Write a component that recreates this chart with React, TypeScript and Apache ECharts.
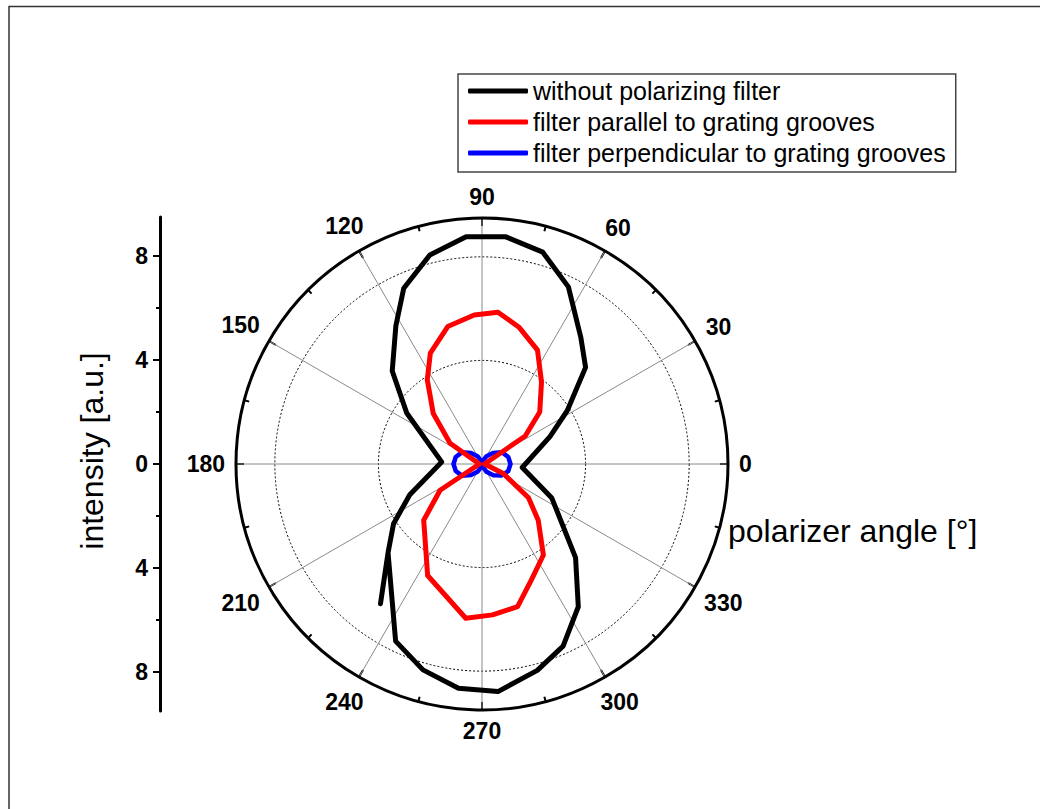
import React, { useEffect, useRef } from "react";
import * as echarts from "echarts";

const FONT = "'Liberation Sans', Arial, Helvetica, sans-serif";

// Black: without polarizing filter (angle in degrees, intensity)
const blackAngle = [234, 223, 214, 203, 177, 146, 134, 122, 114, 104, 94, 84, 74, 64, 52, 43, 32, 22, 355, 334, 315, 304, 294, 285, 274, 264, 254, 244, 223.5];
const blackR = [6.67, 4.95, 4.12, 3.03, 1.56, 3.5, 4.99, 6.28, 7.43, 8.32, 8.8, 8.82, 8.51, 7.61, 6.2, 5.47, 3.88, 2.83, 1.56, 3.0, 5.11, 6.65, 7.7, 8.25, 8.81, 8.71, 8.27, 7.61, 5.0];

// Red: filter parallel to grating grooves
const redAngle = [0, 33, 42, 54, 64, 75, 84, 93, 104, 115, 123, 134, 147, 180, 212, 224, 237, 244, 264, 274, 284, 293, 304, 315, 324, 336, 360];
const redR = [0.1, 1.99, 3.0, 3.91, 4.89, 5.48, 5.89, 5.76, 5.47, 4.72, 3.88, 2.71, 1.47, 0.1, 1.91, 3.13, 3.98, 4.79, 5.99, 5.84, 5.68, 4.87, 4.24, 3.07, 2.22, 0.9, 0.1];

// Blue: filter perpendicular to grating grooves
const blueAngle = [0, 15, 30, 45, 60, 75, 90, 105, 120, 135, 150, 165, 180, 195, 210, 225, 240, 255, 270, 285, 300, 315, 330, 345, 360];
const blueR = [1.1, 1.05, 0.9, 0.6, 0.35, 0.12, 0.02, 0.12, 0.35, 0.6, 0.9, 1.05, 1.1, 1.05, 0.9, 0.6, 0.35, 0.12, 0.02, 0.1, 0.35, 0.62, 0.88, 1.05, 1.1];

const seriesNames = [
  "without polarizing filter",
  "filter parallel to grating grooves",
  "filter perpendicular to grating grooves",
];

const angleTicks = [0, 30, 60, 90, 120, 150, 180, 210, 240, 270, 300, 330];
const intensityMajor = [-8, -4, 0, 4, 8];
const intensityMinor = [-6, -2, 2, 6];
const RADIUS_MAX = 9.5;

const toPairs = (angles: number[], rs: number[]) => angles.map((a, i) => [rs[i], a]);

export default function App() {
  const ref = useRef<HTMLDivElement>(null);
  useEffect(() => {
    if (!ref.current) return;
    const chart = echarts.init(ref.current, undefined, { renderer: "svg" });
    const lineSeries = (name: string, data: number[][], color: string, width: number, z: number) => ({
      type: "line",
      name,
      coordinateSystem: "polar",
      data,
      symbol: "none",
      showSymbol: false,
      smooth: false,
      z,
      lineStyle: { color, width, join: "round", cap: "round" },
      itemStyle: { color },
    });
    const baseGraphic: any[] = [
      {
        type: "rect",
        id: "frame",
        shape: { x: 9, y: 6.5, width: 1100, height: 900 },
        style: { fill: "none", stroke: "#333", lineWidth: 1.5 },
        silent: true,
        z: -1,
      },
      {
        type: "text",
        id: "xname",
        x: 728,
        y: 531,
        style: {
          text: "polarizer angle [°]",
          fontSize: 32,
          fontFamily: FONT,
          fill: "#000",
          align: "left",
          verticalAlign: "middle",
        },
      },
      {
        type: "text",
        id: "yname",
        x: 92,
        y: 451,
        rotation: Math.PI / 2,
        style: {
          text: "intensity [a.u.]",
          fontSize: 32,
          fontFamily: FONT,
          fill: "#000",
          align: "center",
          verticalAlign: "middle",
        },
      },
    ];
    const option: any = {
      animation: false,
      backgroundColor: "#fff",
      polar: { center: [482, 464], radius: 246 },
      angleAxis: {
        type: "value",
        min: 0,
        max: 360,
        interval: 30,
        startAngle: 0,
        clockwise: false,
        axisLine: { show: true, lineStyle: { color: "#000", width: 3 } },
        axisTick: { show: true, inside: true, length: 8, lineStyle: { color: "#000", width: 2 } },
        minorTick: { show: true, splitNumber: 2, length: 5, lineStyle: { color: "#000", width: 2 } },
        axisLabel: { show: false },
        splitLine: { show: true, lineStyle: { color: "#8a8a8a", width: 1 } },
      },
      radiusAxis: {
        type: "value",
        min: 0,
        max: RADIUS_MAX,
        interval: 4,
        axisLine: { show: false },
        axisTick: { show: false },
        axisLabel: { show: false },
        splitLine: { show: true, lineStyle: { color: "#000", width: 1, type: [2, 2] } },
      },
      grid: { left: 160, top: 217, width: 1, height: 494 },
      xAxis: { type: "value", show: false, min: 0, max: 1 },
      yAxis: [
        {
          type: "value",
          min: -RADIUS_MAX,
          max: RADIUS_MAX,
          position: "left",
          axisLine: { show: true, onZero: false, lineStyle: { color: "#000", width: 3 } },
          axisTick: { show: true, length: 7, customValues: intensityMajor, lineStyle: { color: "#000", width: 2 } },
          axisLabel: {
            show: true,
            customValues: intensityMajor,
            formatter: (v: number) => String(Math.abs(v)),
            margin: 12,
            fontSize: 23,
            fontWeight: "bold",
            color: "#000",
            fontFamily: FONT,
          },
          splitLine: { show: false },
        },
        {
          type: "value",
          min: -RADIUS_MAX,
          max: RADIUS_MAX,
          position: "left",
          offset: 0,
          axisLine: { show: false },
          axisTick: { show: true, length: 4, customValues: intensityMinor, lineStyle: { color: "#000", width: 2 } },
          axisLabel: { show: false },
          splitLine: { show: false },
        },
      ],
      legend: {
        show: true,
        orient: "vertical",
        left: 458,
        top: 74,
        padding: [2, 10, 4, 10],
        itemGap: 1,
        itemWidth: 60,
        itemHeight: 5,
        icon: "roundRect",
        borderColor: "#444",
        borderWidth: 1.5,
        backgroundColor: "#fff",
        data: seriesNames,
        textStyle: { fontSize: 25, color: "#000", fontFamily: FONT, lineHeight: 30 },
        selectedMode: false,
      },
      graphic: baseGraphic,
      series: [
        lineSeries(seriesNames[0], toPairs(blackAngle, blackR), "#000000", 5, 3),
        lineSeries(seriesNames[1], toPairs(redAngle, redR), "#ff0000", 5, 3),
        lineSeries(seriesNames[2], toPairs(blueAngle, blueR), "#0000ff", 4.5, 2),
      ],
    };
    chart.setOption(option);

    // Angle tick labels, placed radially (centered) outside the circle using the polar scale.
    const fs = 23;
    const labels: any[] = [];
    try {
      const c = chart.convertToPixel({ seriesIndex: 0 } as any, [0, 0]) as unknown as number[];
      angleTicks.forEach((a) => {
        const p = chart.convertToPixel({ seriesIndex: 0 } as any, [RADIUS_MAX, a]) as unknown as number[];
        const dx = p[0] - c[0];
        const dy = p[1] - c[1];
        const R = Math.hypot(dx, dy);
        const ux = dx / R;
        const uy = dy / R;
        const text = String(a);
        const w = text.length * 0.556 * fs;
        const h = 20;
        const d = R + 11 + Math.abs(ux) * (w / 2) + Math.abs(uy) * (h / 2);
        labels.push({
          type: "text",
          id: "alabel" + a,
          x: c[0] + ux * d,
          y: c[1] + uy * d,
          style: {
            text,
            fontSize: fs,
            fontWeight: "bold",
            fontFamily: FONT,
            fill: "#000",
            align: "center",
            verticalAlign: "middle",
          },
        });
      });
    } catch (e) {
      // ignore
    }
    if (labels.length) {
      option.graphic = [...baseGraphic, ...labels];
      chart.setOption(option, true);
    }
    return () => chart.dispose();
  }, []);
  return (
    <div
      ref={ref}
      style={{ position: "absolute", left: 0, top: 0, width: 1040, height: 809 }}
    />
  );
}
